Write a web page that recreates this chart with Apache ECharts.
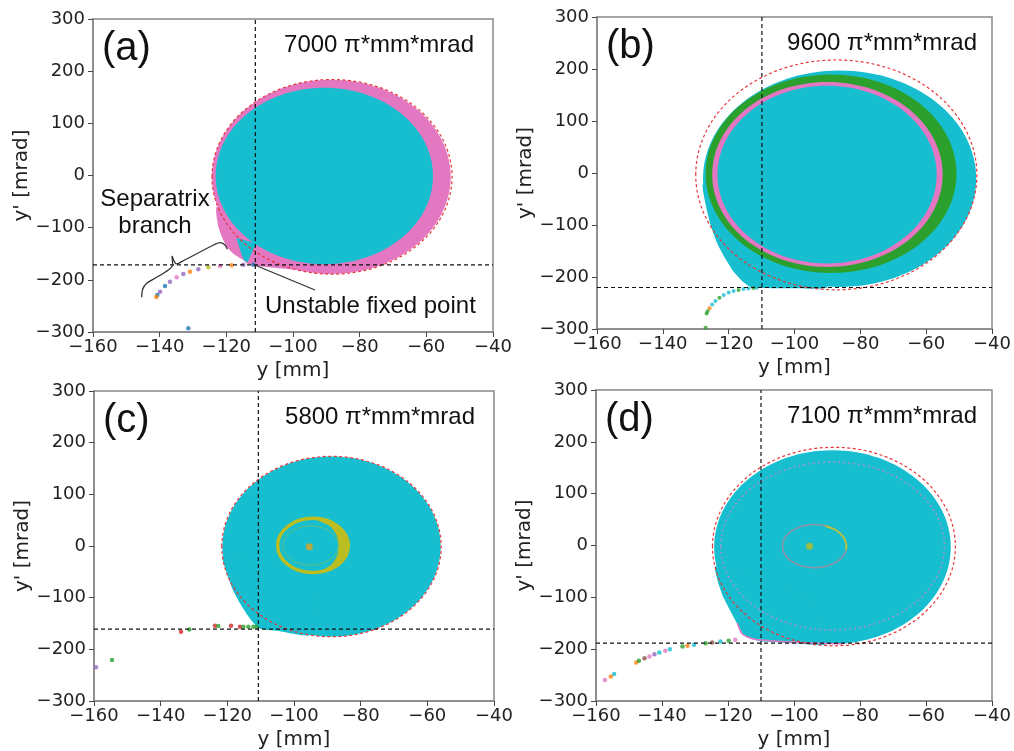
<!DOCTYPE html>
<html>
<head>
<meta charset="utf-8">
<title>separatrix phase space</title>
<script src="https://cdn.jsdelivr.net/npm/echarts@6/dist/echarts.min.js"></script>
</head>
<body style="margin:0;background:#fff;">
<div id="main" style="width:1014px;height:751px;"></div>
<script>
// panel labels and emittance
var panelNames = ['(a)', '(b)', '(c)', '(d)'];
var emittances = ['7000 π*mm*mrad', '9600 π*mm*mrad', '5800 π*mm*mrad', '7100 π*mm*mrad'];
var xRange = [-160, -40];
var yRange = [-300, 300];
// unstable fixed point of each panel [y, y']
var fixedPoints = [[-111.3, -171.5], [-109.9, -220.2], [-110.7, -161], [-110, -188.5]];

// ellipses: [centre y, centre y', half width, half height]
var aPinkBody = [-88.5, -2.5, 35.8, 186];
var aCyanBody = [-90.6, -1, 32.6, 169];
var aDashed = [-88.3, -2.5, 36, 186.5];
var bCyanBody = [-86.3, -11, 41.5, 208];
var bGreenRing = [-88.9, -1.3, 38.1, 190.8];
var bPinkRing = [-90, -2.8, 35, 177.8];
var bCyanCore = [-90.1, -3, 33.3, 171];
var bDashed = [-87.3, -3.6, 42.7, 221];
var cCyanBody = [-88.75, -1, 32.75, 174.4];
var cDashed = [-88.75, -1, 32.9, 174.6];
var cRingOuter = [-94.3, 1, 10.6, 52.5];
var cRingInner = [-95, 1, 8.3, 38];
var dCyanBody = [-88.35, -3, 35.85, 187];
var dPinkRing = [-88.3, -1, 33.9, 162];
var dDashed = [-87.9, -2, 36.8, 191.5];
var dRing = [-93.8, -1.3, 9.7, 41.7];

// tails running into the fixed point, and other outlines
var aPinkTail = [[-122.8, -60], [-122.4, -98], [-121.2, -120], [-119.9, -136.5], [-117.5, -152], [-114.9, -162], [-113.9, -168], [-112.5, -171.5], [-111.3, -173], [-104, -178], [-95, -184], [-88, -187], [-88, -120]];
var aCyanTip = [[-117, -120], [-115.5, -150], [-114.6, -164], [-113.6, -166], [-112.5, -150], [-111, -130]];
var bCyanTail = [[-127.7, -20], [-127, -60], [-125.5, -100], [-123.5, -135], [-121, -165], [-118.5, -190], [-116, -207], [-114.2, -216], [-113.2, -220], [-111, -221], [-100, -221.5], [-90, -219], [-95, -120]];
var cCyanTail = [[-121.3, -20], [-120, -55], [-118.3, -85.7], [-116.3, -110], [-114.3, -130.5], [-112.5, -146], [-111.3, -155], [-110.3, -160], [-105, -164], [-95, -172], [-95, -60]];
var cCrescent = [[-96, 53.5], [-91, 51], [-87.5, 42], [-84.8, 25], [-83.3, 3], [-84, -20], [-86.3, -38], [-90, -49], [-94, -52.5], [-91.5, -47], [-88.6, -35], [-87, -18], [-86.6, 2], [-87.3, 22], [-89.2, 38], [-92.5, 48.5]];
var dCyanTail = [[-123.8, -40], [-122.8, -75], [-121.4, -100], [-119.4, -125], [-117.3, -150], [-116, -165], [-115.3, -173], [-113.5, -179], [-111.5, -183], [-110, -185], [-100, -188.5], [-90, -190], [-95, -100]];
var dPinkEdge = [[-117.2, -150], [-115.8, -170], [-113.5, -178], [-111, -182], [-104, -185], [-95, -188], [-85, -190]];
var dRingArc = [[-90.5, 37.9], [-86.9, 28.2], [-84.7, 13], [-84.1, -1.3], [-84.25, -8.5]];

// separatrix branch particles
var aDots = [[-111.9, -171], [-114.9, -171], [-118.4, -172.1], [-121.9, -173.5], [-125.4, -176], [-128.4, -179.8], [-130.9, -184.4], [-132.9, -188.8], [-134.9, -195], [-136.9, -203.5], [-138.4, -211.8], [-139.9, -222.7], [-140.7, -229], [-141, -233], [-131.4, -292.9]];
var bDots = [[-111.5, -220.5], [-112.5, -221], [-114, -222], [-115.5, -223.3], [-117, -225], [-118.5, -227], [-120, -230], [-121.5, -234.5], [-122.8, -240], [-124, -246], [-125, -253], [-125.8, -260], [-126.4, -266], [-126.7, -270], [-127, -297.5]];
var cDots = [[-159.4, -234.6], [-154.6, -220.5], [-133.9, -166], [-131.4, -161.5], [-123.7, -154.5], [-122.7, -155], [-118.9, -154.5], [-116.2, -156.4], [-115.2, -156.4], [-113.7, -156.4], [-112.2, -156.4], [-111.2, -156.4]];
var dDots = [[-157.3, -259.6], [-155.5, -252.5], [-154.5, -248], [-147.8, -225.6], [-147, -222.5], [-145.3, -217.3], [-143.8, -214], [-142.3, -209.6], [-140.8, -206.4], [-139, -203.2], [-137.6, -200], [-133.8, -194.9], [-132.3, -193.6], [-130.3, -191.7], [-126.8, -188.5], [-124.8, -187.1], [-122.3, -185.2], [-119.8, -184], [-117.8, -182]];
var centreDots = [[-95.4, -1.3], [-95.3, -1.3]];

// brace and pointer of panel (a)
var aBrace = [[-145.4, -233.5], [-145.1, -218.2], [-143.9, -206.7], [-141.4, -197.1], [-137.4, -181.1], [-136.1, -171.6], [-136.3, -154.3], [-134.9, -169.6], [-133.4, -165.2], [-124.4, -135.1], [-121.9, -128.8], [-120.4, -133.2], [-119.7, -141.5]];
var aPointer = [[-111.3, -172], [-93.4, -219.5]];

var CYAN = '#17becf', PINK = '#e377c2', GREEN = '#2ca02c', OLIVE = '#bcbd22', RED = '#e8373a';
var dotColors = [
    ['#1f77b4', '#9467bd', '#ff7f0e', '#e377c2', '#bcbd22', '#9467bd', '#ff7f0e', '#9467bd', '#e377c2', '#9467bd', '#1f77b4', '#9467bd', '#1f77b4', '#ff7f0e', '#1f77b4'],
    [CYAN, GREEN, CYAN, CYAN, GREEN, CYAN, CYAN, CYAN, GREEN, CYAN, CYAN, '#ff7f0e', GREEN, GREEN, GREEN],
    ['#9467bd', GREEN, '#d62728', GREEN, '#d62728', GREEN, '#d62728', '#d62728', GREEN, GREEN, GREEN, GREEN],
    [PINK, '#ff7f0e', CYAN, '#ff7f0e', GREEN, '#8c564b', PINK, '#9467bd', CYAN, PINK, CYAN, GREEN, '#ff7f0e', CYAN, GREEN, '#8c564b', CYAN, GREEN, PINK]
];

var grids = [
    {left: 93, top: 19, width: 400, height: 313},
    {left: 597, top: 17, width: 399, height: 312},
    {left: 94, top: 391, width: 400, height: 312},
    {left: 596, top: 390, width: 400, height: 312}
];

function minus(v) { return String(v).replace('-', '\u2212'); }

function ellipse(i, e, style, z) {
    return {
        type: 'custom', xAxisIndex: i, yAxisIndex: i, z: z, silent: true, clip: true,
        data: [e],
        renderItem: function (params, api) {
            var c = api.coord([api.value(0), api.value(1)]);
            var s = api.size([api.value(2), api.value(3)]);
            return {type: 'ellipse', shape: {cx: c[0], cy: c[1], rx: s[0], ry: s[1]}, style: style};
        }
    };
}

function poly(i, pts, style, z, open, smooth) {
    return {
        type: 'custom', xAxisIndex: i, yAxisIndex: i, z: z, silent: true, clip: true,
        data: [pts[0]],
        renderItem: function (params, api) {
            var p = pts.map(function (q) { return api.coord(q); });
            return {type: open ? 'polyline' : 'polygon', shape: {points: p, smooth: smooth || 0}, style: style};
        }
    };
}

function dots(i, list, colors, size) {
    return {
        type: 'scatter', xAxisIndex: i, yAxisIndex: i, z: 6, silent: true, symbolSize: size || 4.5,
        data: list.map(function (p, k) { return {value: p, itemStyle: {color: colors[k % colors.length]}}; })
    };
}

function crossLines(i) {
    var f = fixedPoints[i];
    var st = {color: '#111', width: 1.2, type: [4, 3]};
    return [
        {type: 'line', xAxisIndex: i, yAxisIndex: i, z: 7, silent: true, symbol: 'none', lineStyle: st,
            data: [[xRange[0], f[1]], [xRange[1], f[1]]]},
        {type: 'line', xAxisIndex: i, yAxisIndex: i, z: 7, silent: true, symbol: 'none', lineStyle: st,
            data: [[f[0], yRange[0]], [f[0], yRange[1]]]}
    ];
}

var dashStyle = {fill: 'none', stroke: RED, lineWidth: 1.2, lineDash: [3, 2.5]};

var series = [];
// (a)
series.push(ellipse(0, aPinkBody, {fill: PINK}, 2));
series.push(poly(0, aPinkTail, {fill: PINK}, 2, false, 0.15));
series.push(ellipse(0, aCyanBody, {fill: CYAN}, 3));
series.push(poly(0, aCyanTip, {fill: CYAN}, 3));
series.push(ellipse(0, aDashed, dashStyle, 5));
series.push(dots(0, aDots, dotColors[0]));
series.push({type: 'line', xAxisIndex: 0, yAxisIndex: 0, z: 8, silent: true, symbol: 'none', smooth: 0.3,
    lineStyle: {color: '#333', width: 1.3}, data: aBrace});
series.push({type: 'line', xAxisIndex: 0, yAxisIndex: 0, z: 8, silent: true, symbol: 'none',
    lineStyle: {color: '#333', width: 1.3}, data: aPointer});
// (b)
series.push(ellipse(1, bCyanBody, {fill: CYAN}, 2));
series.push(poly(1, bCyanTail, {fill: CYAN}, 2, false, 0.15));
series.push(ellipse(1, bGreenRing, {fill: GREEN}, 3));
series.push(ellipse(1, bPinkRing, {fill: PINK}, 3));
series.push(ellipse(1, bCyanCore, {fill: CYAN}, 3));
series.push(ellipse(1, bDashed, dashStyle, 5));
series.push(dots(1, bDots, dotColors[1], 4));
// (c)
series.push(ellipse(2, cCyanBody, {fill: CYAN}, 2));
series.push(poly(2, cCyanTail, {fill: CYAN}, 2, false, 0.15));
series.push(ellipse(2, cRingOuter, {fill: 'none', stroke: OLIVE, lineWidth: 3.5}, 3));
series.push(poly(2, cCrescent, {fill: OLIVE}, 3, false, 0.2));
series.push(ellipse(2, cRingInner, {fill: 'none', stroke: OLIVE, lineWidth: 1, opacity: 0.45}, 3));
series.push(ellipse(2, cDashed, dashStyle, 5));
series.push(dots(2, cDots, dotColors[2]));
series.push(dots(2, [centreDots[0]], ['#e0a21a'], 7));
// (d)
series.push(ellipse(3, dCyanBody, {fill: CYAN}, 2));
series.push(poly(3, dCyanTail, {fill: CYAN}, 2, false, 0.15));
series.push(ellipse(3, dPinkRing, {fill: 'none', stroke: '#c48ad0', lineWidth: 1.5, lineDash: [2, 3], opacity: 0.8}, 3));
series.push(poly(3, dPinkEdge, {fill: 'none', stroke: PINK, lineWidth: 1.5}, 3, true, 0.2));
series.push(ellipse(3, dRing, {fill: 'none', stroke: '#8f92a8', lineWidth: 1.6}, 3));
series.push(poly(3, dRingArc, {fill: 'none', stroke: '#b8c43a', lineWidth: 1.8}, 4, true, 0.3));
series.push(ellipse(3, dDashed, dashStyle, 5));
series.push(dots(3, dDots, dotColors[3]));
series.push(dots(3, [centreDots[1]], [OLIVE], 7));

for (var i = 0; i < 4; i++) series = series.concat(crossLines(i));

var axisFont = {fontSize: 18, color: '#222', fontFamily: 'DejaVu Sans'};
var nameFont = {fontSize: 20, color: '#222', fontFamily: 'DejaVu Sans'};
var xAxes = [], yAxes = [];
grids.forEach(function (g, i) {
    xAxes.push({
        gridIndex: i, type: 'value', min: xRange[0], max: xRange[1], interval: 20,
        name: 'y [mm]', nameLocation: 'middle', nameGap: 29, nameTextStyle: nameFont,
        axisLine: {onZero: false, lineStyle: {color: '#888', width: 1.5}},
        axisTick: {length: 5, lineStyle: {color: '#444'}},
        axisLabel: Object.assign({margin: 6, formatter: minus}, axisFont),
        splitLine: {show: false}
    });
    yAxes.push({
        gridIndex: i, type: 'value', min: yRange[0], max: yRange[1], interval: 100,
        name: "y' [mrad]", nameLocation: 'middle', nameGap: 60, nameTextStyle: nameFont,
        axisLine: {onZero: false, lineStyle: {color: '#888', width: 1.5}},
        axisTick: {length: 5, lineStyle: {color: '#444'}},
        axisLabel: Object.assign({margin: 8, formatter: minus}, axisFont),
        splitLine: {show: false}
    });
});

var graphics = [];
grids.forEach(function (g, i) {
    graphics.push({type: 'text', x: g.left + 9, y: g.top + 29.5, z: 100,
        style: {text: panelNames[i], font: '40px "Liberation Sans"', fill: '#111', textVerticalAlign: 'middle'}});
    graphics.push({type: 'text', x: g.left + g.width - 19, y: g.top + 26, z: 100,
        style: {text: emittances[i], font: '24px "Liberation Sans"', fill: '#111', textAlign: 'right', textVerticalAlign: 'middle'}});
});
graphics.push({type: 'text', x: 155, y: 199, z: 100,
    style: {text: 'Separatrix', font: '24px "Liberation Sans"', fill: '#111', textAlign: 'center', textVerticalAlign: 'middle'}});
graphics.push({type: 'text', x: 155, y: 226, z: 100,
    style: {text: 'branch', font: '24px "Liberation Sans"', fill: '#111', textAlign: 'center', textVerticalAlign: 'middle'}});
graphics.push({type: 'text', x: 265, y: 306, z: 100,
    style: {text: 'Unstable fixed point', font: '24px "Liberation Sans"', fill: '#111', textVerticalAlign: 'middle'}});

var myChart = echarts.init(document.getElementById('main'));
myChart.setOption({
    backgroundColor: '#fff',
    animation: false,
    grid: grids.map(function (g) {
        return Object.assign({show: true, borderColor: '#888', borderWidth: 1.5, backgroundColor: 'transparent'}, g);
    }),
    xAxis: xAxes,
    yAxis: yAxes,
    series: series,
    graphic: graphics
});
</script>
</body>
</html>
